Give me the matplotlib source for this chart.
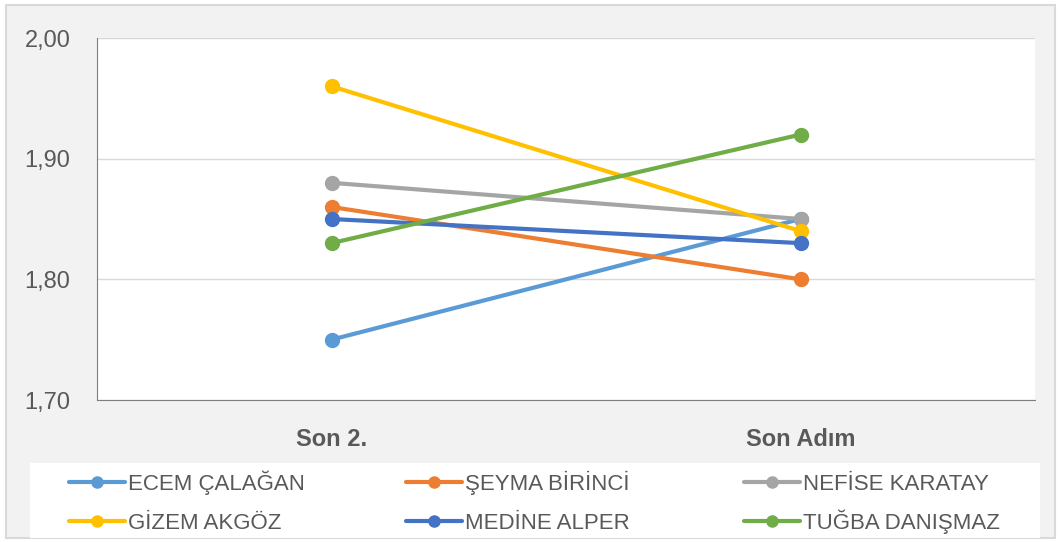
import matplotlib

matplotlib.use("Agg")
import matplotlib.pyplot as plt
from matplotlib.lines import Line2D
from matplotlib.patches import Rectangle
import numpy as np

# chart values
CATEGORIES = ["Son 2.", "Son Adım"]
NAMES = [
    "ECEM ÇALAĞAN",
    "ŞEYMA BİRİNCİ",
    "NEFİSE KARATAY",
    "GİZEM AKGÖZ",
    "MEDİNE ALPER",
    "TUĞBA DANIŞMAZ",
]
VALUES = [
    [1.75, 1.85],
    [1.86, 1.80],
    [1.88, 1.85],
    [1.96, 1.84],
    [1.85, 1.83],
    [1.83, 1.92],
]
COLORS = ["#5B9BD5", "#ED7D31", "#A5A5A5", "#FFC000", "#4472C4", "#70AD47"]
Y_TICKS = [1.70, 1.80, 1.90, 2.00]

W, H = 1060, 542
plt.rcParams["font.family"] = ["Liberation Sans", "DejaVu Sans"]

fig = plt.figure(figsize=(W / 100, H / 100), dpi=100, facecolor="white")

# chart area background with border
fig.patches.append(
    Rectangle((6 / W, 4 / H), (W - 11) / W, (H - 9) / H, transform=fig.transFigure,
              facecolor="#F2F2F2", edgecolor="#D9D9D9", linewidth=1.5, zorder=-2)
)
# white legend band
fig.patches.append(
    Rectangle((30 / W, (H - 538) / H), 1010 / W, 75 / H, transform=fig.transFigure,
              facecolor="white", edgecolor="none", zorder=-1)
)

ax = fig.add_axes([97 / W, 1 - 400 / H, 938 / W, 362 / H])
ax.set_facecolor("white")

x = np.arange(len(CATEGORIES))
for name, vals, col in zip(NAMES, VALUES, COLORS):
    ax.plot(x, vals, "-o", color=col, lw=3.0, ms=10, label=name, solid_capstyle="round",
            clip_on=False, zorder=3)

ax.set_xlim(-0.5, len(CATEGORIES) - 0.5)
ax.set_ylim(1.70, 2.00)
ax.set_yticks(Y_TICKS)
ax.set_yticklabels([f"{v:.2f}".replace(".", ",") for v in Y_TICKS])
ax.set_xticks(x)
ax.set_xticklabels(CATEGORIES, fontweight="bold", fontsize=17, color="#595959")
ax.tick_params(axis="x", length=0, pad=20)
ax.tick_params(axis="y", length=0, pad=19, labelsize=17, labelcolor="#595959")

ax.grid(axis="y", color="#D9D9D9", lw=1.0)
ax.set_axisbelow(True)
for s in ["top", "right"]:
    ax.spines[s].set_visible(False)
for s in ["left", "bottom"]:
    ax.spines[s].set_color("#7F7F7F")
    ax.spines[s].set_linewidth(0.8)

# legend: 3 columns x 2 rows, laid out like the Excel legend
col_x = [69, 406, 744]
row_y = [482, 521]
for i, (name, col) in enumerate(zip(NAMES, COLORS)):
    cx = col_x[i % 3]
    ry = row_y[i // 3]
    cy = 1 - ry / H
    fig.add_artist(Line2D([cx / W, (cx + 56) / W], [cy, cy], transform=fig.transFigure,
                          color=col, lw=3.0, solid_capstyle="round"))
    fig.add_artist(Line2D([(cx + 28) / W], [cy], transform=fig.transFigure,
                          color=col, marker="o", ms=8, lw=0))
    fig.text((cx + 59) / W, 1 - (ry + 8) / H, name, fontsize=16, color="#595959",
             va="baseline", ha="left")

fig.savefig("out.png", dpi=100, facecolor="white")
